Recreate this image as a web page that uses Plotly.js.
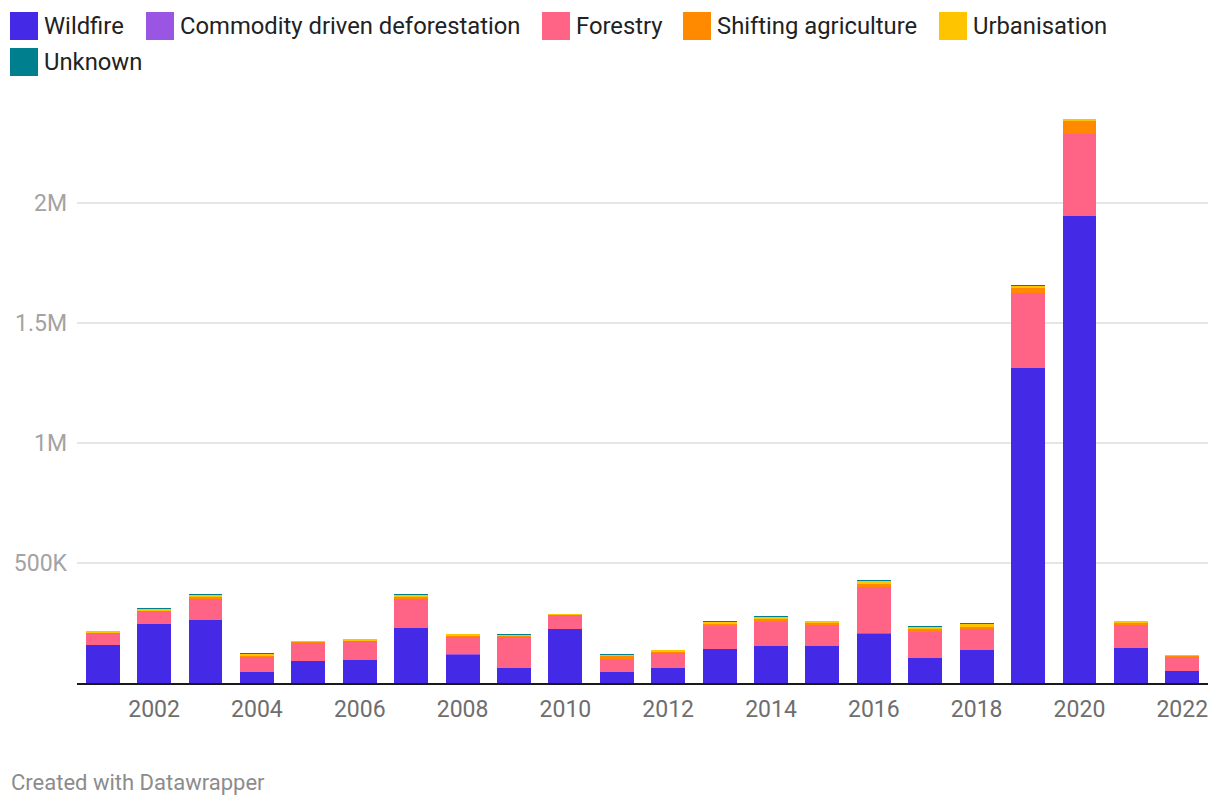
<!DOCTYPE html>
<html>
<head>
<meta charset="utf-8">
<script src="https://cdn.plot.ly/plotly-3.0.1.min.js"></script>
<style>
  html, body { margin: 0; padding: 0; background: #fff; }
  #chart { width: 1220px; height: 806px; }
</style>
</head>
<body>
<div id="chart"></div>
<script>
// ---- Data (hectares) ----
const years = [2001, 2002, 2003, 2004, 2005, 2006, 2007, 2008, 2009, 2010, 2011,
               2012, 2013, 2014, 2015, 2016, 2017, 2018, 2019, 2020, 2021, 2022];
const wildfire    = [158000, 246000, 262000, 46000, 92000, 96000, 229000, 117000, 62000, 225000, 46000,
                     62000, 142000, 154000, 154000, 204000, 104000, 137000, 1312000, 1946000, 146000, 50000];
const commodity   = [0, 0, 0, 0, 0, 0, 0, 4000, 0, 0, 0,
                     0, 0, 0, 0, 4000, 0, 0, 0, 0, 0, 0];
const forestry    = [50000, 54000, 88000, 64000, 74000, 78000, 121000, 72000, 128000, 57000, 54000,
                     62000, 97000, 101000, 87000, 192000, 108000, 87000, 312000, 343000, 96000, 60000];
const shifting    = [2000, 2000, 10000, 4000, 3000, 3000, 10000, 4000, 4000, 2000, 14000,
                     4000, 7000, 11000, 8000, 12500, 12500, 10000, 21000, 53000, 8000, 3000];
const urbanisation= [6000, 8000, 7000, 7000, 5000, 6000, 7000, 7000, 5000, 5000, 3000,
                     8000, 7000, 7000, 8000, 12500, 8000, 10000, 8000, 8000, 8000, 4000];
const unknown     = [0, 4000, 4000, 4000, 0, 0, 4000, 0, 4000, 0, 4000,
                     0, 5000, 5000, 0, 4000, 4000, 5000, 4000, 0, 0, 0];

const seriesNames  = ["Wildfire", "Commodity driven deforestation", "Forestry",
                      "Shifting agriculture", "Urbanisation", "Unknown"];
const seriesValues = [wildfire, commodity, forestry, shifting, urbanisation, unknown];
const seriesColors = ["#4429e6", "#9a56e2", "#ff6385", "#ff8a00", "#ffc400", "#00808e"];

const yTickVals  = [500000, 1000000, 1500000, 2000000];
const yTickText  = ["500K", "1M", "1.5M", "2M"];
const xTickVals  = [2002, 2004, 2006, 2008, 2010, 2012, 2014, 2016, 2018, 2020, 2022];

// ---- Layout geometry (pixels) ----
const W = 1220, H = 806;
const M = { l: 77, r: 12, t: 107, b: 123 };
const plotW = W - M.l - M.r, plotH = H - M.t - M.b;
const px2x = px => (px - M.l) / plotW;
const px2y = py => (H - M.b - py) / plotH;

const traces = seriesNames.map((name, i) => ({
  type: "bar",
  name: name,
  x: years,
  y: seriesValues[i],
  marker: { color: seriesColors[i], line: { width: 0 } },
  showlegend: false,
  hovertemplate: name + " %{x}: %{y:,}<extra></extra>"
}));

// Manual legend (larger swatches, as in the reference)
const legendPos = [
  { x: 10,  y: 12 }, { x: 146, y: 12 }, { x: 542, y: 12 },
  { x: 683, y: 12 }, { x: 939, y: 12 }, { x: 10,  y: 48 }
];
const sw = 28;
const shapes = [];
const annotations = [];
seriesNames.forEach((name, i) => {
  const p = legendPos[i];
  shapes.push({
    type: "rect", xref: "paper", yref: "paper",
    x0: px2x(p.x), x1: px2x(p.x + sw), y0: px2y(p.y + sw), y1: px2y(p.y),
    fillcolor: seriesColors[i], line: { width: 0 }
  });
  annotations.push({
    xref: "paper", yref: "paper", x: px2x(p.x + sw + 4), y: px2y(p.y + sw / 2),
    xanchor: "left", yanchor: "middle", showarrow: false, text: name,
    font: { family: "Roboto, sans-serif", size: 23.8, color: "#222" }
  });
});
annotations.push({
  xref: "paper", yref: "paper", x: px2x(9), y: px2y(782),
  xanchor: "left", yanchor: "middle", showarrow: false,
  text: "Created with Datawrapper",
  font: { family: "Roboto, sans-serif", size: 22, color: "#8c8c8c" }
});

const layout = {
  width: W, height: H,
  margin: M,
  paper_bgcolor: "#fff", plot_bgcolor: "#fff",
  barmode: "stack",
  bargap: 0.34,
  font: { family: "Roboto, sans-serif" },
  xaxis: {
    range: [2000.5, 2022.5],
    tickvals: xTickVals,
    ticks: "",
    ticklabelstandoff: 4,
    showgrid: false,
    zeroline: false,
    showline: true, linecolor: "#1a1a1a", linewidth: 2,
    tickfont: { family: "Roboto, sans-serif", size: 23, color: "#6e6e6e" },
    fixedrange: true
  },
  yaxis: {
    range: [0, 2400000],
    tickvals: yTickVals,
    ticktext: yTickText,
    ticks: "",
    ticklabelstandoff: 9,
    showgrid: true, gridcolor: "#e6e6e6", gridwidth: 1.5,
    zeroline: false,
    showline: false,
    tickfont: { family: "Roboto, sans-serif", size: 23, color: "#a3a3a3" },
    fixedrange: true
  },
  shapes: shapes,
  annotations: annotations
};

Plotly.newPlot("chart", traces, layout, { displayModeBar: false, staticPlot: true });
</script>
</body>
</html>
